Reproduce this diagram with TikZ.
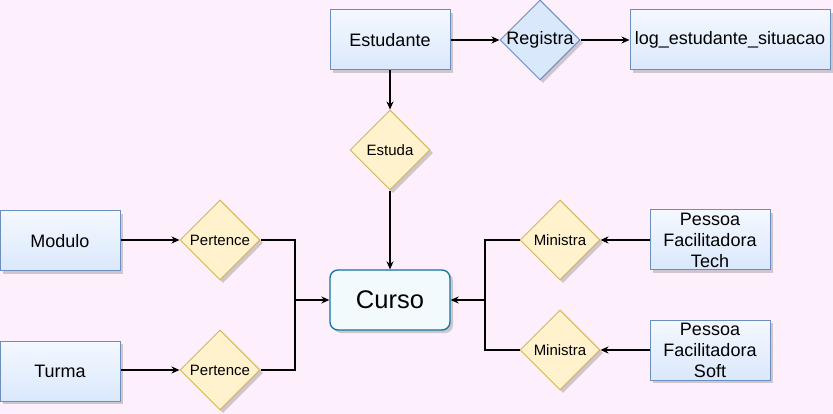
\documentclass[tikz,border=0pt]{standalone}
\usepackage{fontspec}
\setmainfont{Liberation Sans}
\usetikzlibrary{shapes.geometric, arrows.meta, shadows}

\definecolor{fundo}{HTML}{FDEFFC}
\definecolor{azul}{HTML}{DAE8FC}
\definecolor{azulclaro}{HTML}{F4F8FE}
\definecolor{azulborda}{HTML}{6C8EBF}
\definecolor{amarelo}{HTML}{FFF2CC}
\definecolor{amareloborda}{HTML}{D6B656}
\definecolor{curso}{HTML}{F2FAFE}
\definecolor{cursoborda}{HTML}{10739E}

\tikzset{
  sombra/.style={drop shadow={shadow xshift=3pt, shadow yshift=-3pt, opacity=0.3, fill=black!60}},
  entidade/.style={rectangle, draw=azulborda, line width=1pt, top color=azulclaro, middle color=azul, bottom color=azul,
    minimum width=120pt, minimum height=60pt, inner sep=2pt, align=center, font=\fontsize{18}{21}\selectfont, sombra},
  relacao/.style={diamond, draw=amareloborda, line width=1pt, fill=amarelo, minimum width=80pt, minimum height=80pt,
    inner sep=0pt, font=\fontsize{15}{18}\selectfont, sombra},
  seta/.style={-{Stealth[length=8pt, width=7pt]}, line width=1.2pt},
  linha/.style={line width=1.2pt}
}

\begin{document}
\begin{tikzpicture}[x=1pt, y=-1pt]
  \fill[fundo] (0,0) rectangle (833,414);
  \useasboundingbox (0,0) rectangle (833,414);

  % entidades
  \node[entidade] (estudante) at (390,40) {Estudante};
  \node[entidade, minimum width=200pt] (log) at (730,40) {log\_estudante\_situacao};
  \node[entidade] (modulo) at (60,241) {Modulo};
  \node[entidade] (turma) at (60,371) {Turma};
  \node[entidade] (tech) at (710,240) {Pessoa\\Facilitadora\\Tech};
  \node[entidade] (soft) at (710,350) {Pessoa\\Facilitadora\\Soft};
  \node[rectangle, rounded corners=8pt, draw=cursoborda, line width=1.3pt, fill=curso, minimum width=120pt, minimum height=60pt,
    font=\fontsize{25.5}{30}\selectfont, sombra] (curso) at (390,300) {Curso};

  % relacoes
  \node[relacao, fill=azul, draw=azulborda, font=\fontsize{18}{21}\selectfont] (registra) at (540,40) {\makebox[0pt]{Registra}};
  \node[relacao] (estuda) at (390,150) {\makebox[0pt]{Estuda}};
  \node[relacao] (pertence1) at (220,240) {\makebox[0pt]{Pertence}};
  \node[relacao] (pertence2) at (220,370) {\makebox[0pt]{Pertence}};
  \node[relacao] (ministra1) at (560,240) {\makebox[0pt]{Ministra}};
  \node[relacao] (ministra2) at (560,350) {\makebox[0pt]{Ministra}};

  \coordinate (jesq) at (295,300);
  \coordinate (jdir) at (485,300);

  \draw[seta] (estudante) -- (registra);
  \draw[seta] (registra) -- (log);
  \draw[seta] (estudante) -- (estuda);
  \draw[seta] (estuda) -- (curso);
  \draw[seta] (modulo.east |- pertence1) -- (pertence1);
  \draw[seta] (turma.east |- pertence2) -- (pertence2);
  \draw[linha] (pertence1.east) -| (jesq);
  \draw[linha] (pertence2.east) -| (jesq);
  \draw[seta] (jesq) -- (curso.west);
  \draw[seta] (tech) -- (ministra1);
  \draw[seta] (soft) -- (ministra2);
  \draw[linha] (ministra1.west) -| (jdir);
  \draw[linha] (ministra2.west) -| (jdir);
  \draw[seta] (jdir) -- (curso.east);
\end{tikzpicture}
\end{document}
